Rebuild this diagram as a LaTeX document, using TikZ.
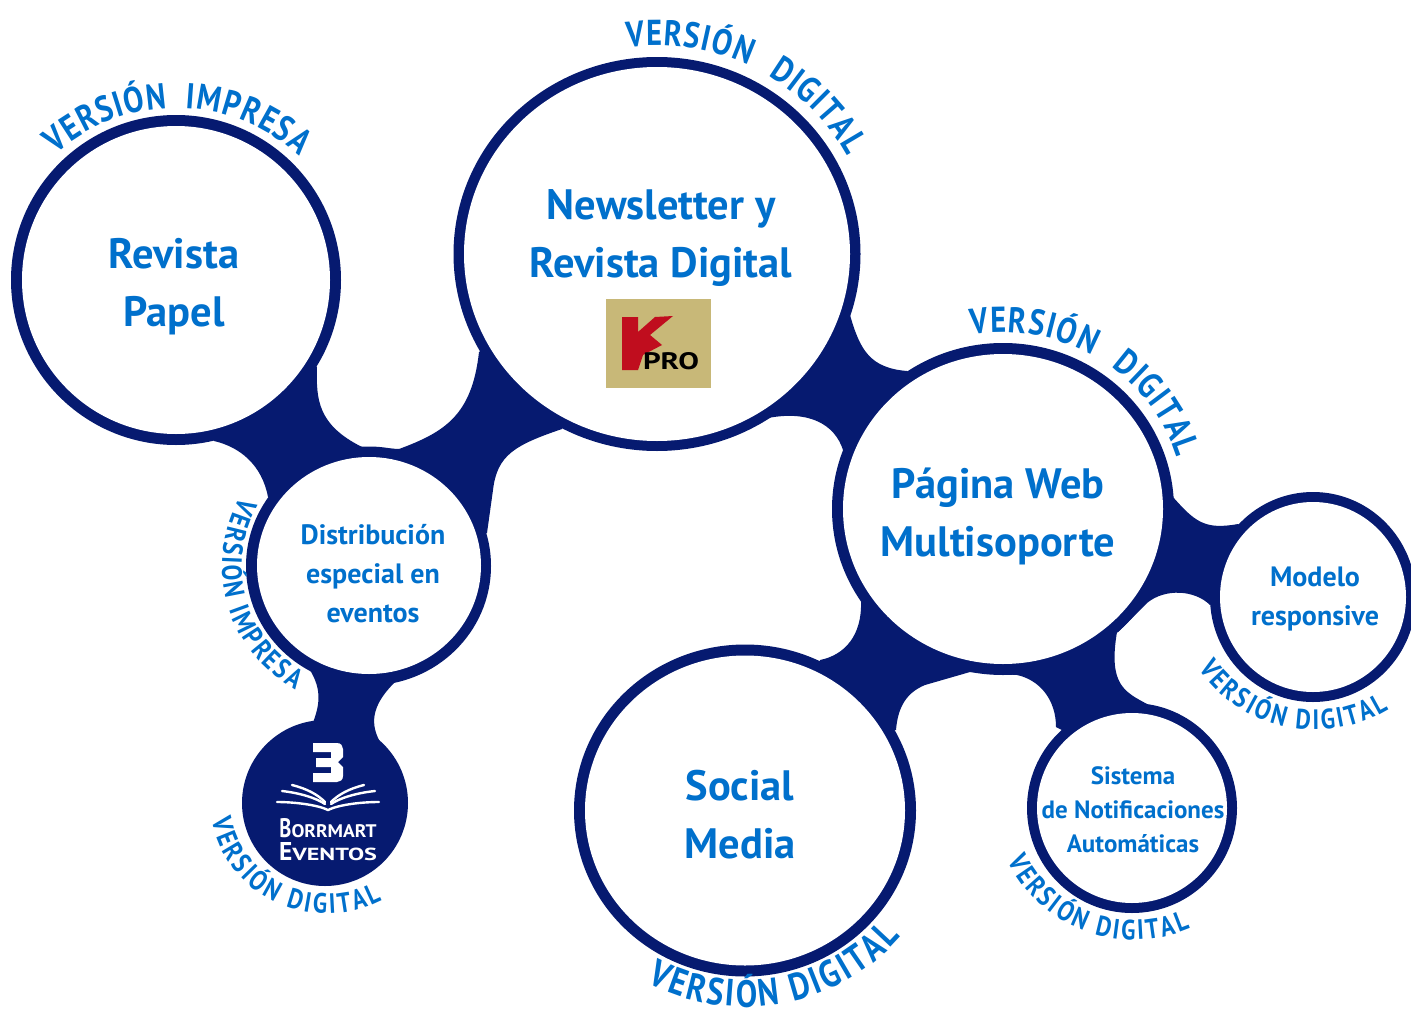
\documentclass[tikz,border=0pt]{standalone}
\usepackage{fontspec}
\usepackage{graphicx}
\setmainfont{PT Sans}
\newfontfamily\labfont[FakeStretch=0.84]{PT Sans}
\usetikzlibrary{decorations.text}
\definecolor{navy}{HTML}{061A70}
\definecolor{lab}{HTML}{0070CC}
\definecolor{kgold}{HTML}{C8B878}
\definecolor{kred}{HTML}{C00D1E}
\newcommand\curvelabel[7]{% text cx cy from to r size
  \path[decorate,decoration={text along path,text align={fit to path},
    text={|\labfont\fontsize{#7}{#7}\selectfont\bfseries\color{lab}|#1}}]
    plot[domain=#4:#5,samples=90] ({#2+#6*cos(\x)},{#3-#6*sin(\x)*0.97});}
\tikzset{
  web/.style={fill=navy,draw=none},
  ringo/.style={fill=navy,draw=none},
  inner/.style={fill=white,draw=none},
  big/.style={font=\fontsize{42.5}{58}\selectfont\bfseries,text=lab,align=center,inner sep=0pt},
  mid/.style={font=\fontsize{28}{39}\selectfont\bfseries,text=lab,align=center,inner sep=0pt},
  small/.style={font=\fontsize{25}{34}\selectfont\bfseries,text=lab,align=center,inner sep=0pt},
  pagestroke/.style={draw=white,line width=2.4pt,line cap=round},
}
\begin{document}
\begin{tikzpicture}[x=1pt,y=-1pt]
\useasboundingbox (0,0) rectangle (1411,1009);
\clip (0,0) rectangle (1411,1009);
\fill[white] (0,0) rectangle (1411,1009);
% webbing A-C-B
\path[web] (317,367) .. controls (316,400) and (318,425) .. (362,447)
  -- (399,449) .. controls (445,432) and (472,415) .. (479,352)
  -- (560,300) -- (562,429) .. controls (515,445) and (497,455) .. (493,490)
  -- (487,533) -- (369,566) -- (268,497) .. controls (262,465) and (240,447) .. (214,441)
  -- (200,300) -- cycle;
% C-D
\path[web] (310,670) .. controls (322,690) and (320,705) .. (312,725)
  -- (380,742) .. controls (368,720) and (375,702) .. (395,682) -- (369,600) -- cycle;
% B-E
\path[web] (850,315) .. controls (860,350) and (870,368) .. (907,371)
  -- (1000,450) -- (843,450) .. controls (835,425) and (810,410) .. (768,418)
  -- (700,300) -- cycle;
% E-F
\path[web] (1173,497) .. controls (1195,522) and (1205,530) .. (1238,524)
  -- (1300,560) -- (1210,605) .. controls (1195,590) and (1165,588) .. (1147,603)
  -- (1118,632) -- (1050,500) -- cycle;
% E-H-G
\path[web] (861,602) .. controls (862,635) and (845,655) .. (820,660)
  -- (800,750) -- (896,730) .. controls (898,705) and (908,692) .. (925,685)
  -- (970,672) -- (1017,675) .. controls (1040,680) and (1056,700) .. (1056,727)
  -- (1120,760) -- (1147,704) .. controls (1125,692) and (1108,685) .. (1117,632)
  -- (1000,500) -- cycle;
% rings
\path[ringo] (176,280) ellipse [x radius=165,y radius=165];
\path[ringo] (657,254) ellipse [x radius=203.5,y radius=197];
\path[ringo] (368.5,566) ellipse [x radius=122.5,y radius=119.5];
\path[ringo] (325,803) ellipse [x radius=83,y radius=83];
\path[ringo] (1003,509) ellipse [x radius=171,y radius=166];
\path[ringo] (1313,597) ellipse [x radius=103,y radius=105];
\path[ringo] (1132,808) ellipse [x radius=105,y radius=105];
\path[ringo] (745,810.5) ellipse [x radius=171,y radius=166];
\path[inner] (176,280) ellipse [x radius=154,y radius=154];
\path[inner] (657,254) ellipse [x radius=193,y radius=187];
\path[inner] (369,565.5) ellipse [x radius=112,y radius=108.5];
\path[inner] (1003,509) ellipse [x radius=160,y radius=155];
\path[inner] (1313,597) ellipse [x radius=93,y radius=95];
\path[inner] (1132,808) ellipse [x radius=95,y radius=95];
\path[inner] (745,810.5) ellipse [x radius=160,y radius=155];
% node texts
\node[big] (papel) at (174,287) {Revista\\Papel};
\node[big] (news) at (661,238) {Newsletter y\\Revista Digital};
\node[mid] (dist) at (373,574) {Distribución\\especial en\\eventos};
\node[big] (web) at (998,516) {Página Web\\Multisoporte};
\node[mid] (model) at (1315,599) {Modelo\\responsive};
\node[small] (sist) at (1133,810) {Sistema\\de Notificaciones\\Automáticas};
\node[big] (social) at (740,815) {Social\\Media};
% KPRO logo
\fill[kgold] (606,299) rectangle (711,388);
\fill[kred] (622,317) -- (638,317) -- (638,332) -- (655,317) -- (673,316) -- (650,335) -- (662,345) -- (643,355) -- (638,370) -- (622,370) -- cycle;
\node[inner sep=0pt,text=black] (kpro) at (671,361.5) {\resizebox{56pt}{17pt}{\bfseries PRO}};
% Borrmart logo
\fill[white,even odd rule] (313,743) -- (337,743) .. controls (341,743) and (343,746) .. (343,749)
  -- (343,757) -- (338,762) -- (343,767) -- (343,776) .. controls (343,780) and (340,782) .. (337,782)
  -- (313,782) -- (313,773) -- (331,773) -- (331,767) -- (316,767) -- (316,758) -- (331,758) -- (331,752) -- (313,752) -- cycle;
\draw[pagestroke] (292,785) .. controls (308,789) and (318,795) .. (325,802);
\draw[pagestroke] (282,791) .. controls (300,793) and (316,798) .. (325,804);
\draw[pagestroke] (277,802) .. controls (295,802) and (318,805) .. (328,810) .. controls (338,805) and (360,802) .. (379,802);
\draw[pagestroke] (364,785) .. controls (348,789) and (338,795) .. (331,802);
\draw[pagestroke] (375,791) .. controls (356,793) and (340,798) .. (331,804);
\node[inner sep=0pt,text=white] (bor) at (328,828) {\resizebox{97pt}{19pt}{\bfseries B\scalebox{0.95}[0.68]{ORRMART}}};
\node[inner sep=0pt,text=white] (eve) at (328,851.5) {\resizebox{98pt}{18pt}{\bfseries E\scalebox{0.95}[0.68]{VENTOS}}};
% curved labels: text cx cy from to r size
\curvelabel{VERSIÓN{\kern16pt}IMPRESA}{176}{280}{133}{46}{177}{36}
\curvelabel{VERSIÓN{\kern20pt}DIGITAL}{657}{254}{98}{28}{215}{36}
\curvelabel{VERSIÓN{\kern20pt}DIGITAL}{1003}{509}{100}{17}{182}{36}
\curvelabel{VERSIÓN IMPRESA}{369}{566}{151}{240}{147}{28}
\curvelabel{VERSIÓN DIGITAL}{327}{800}{190}{298}{117}{28}
\curvelabel{VERSIÓN DIGITAL}{1315}{595}{213}{302}{139}{28}
\curvelabel{VERSIÓN DIGITAL}{1134}{806}{204}{294}{138}{28}
\curvelabel{VERSIÓN DIGITAL}{745}{810}{241}{320}{203}{38}
\end{tikzpicture}
\end{document}
